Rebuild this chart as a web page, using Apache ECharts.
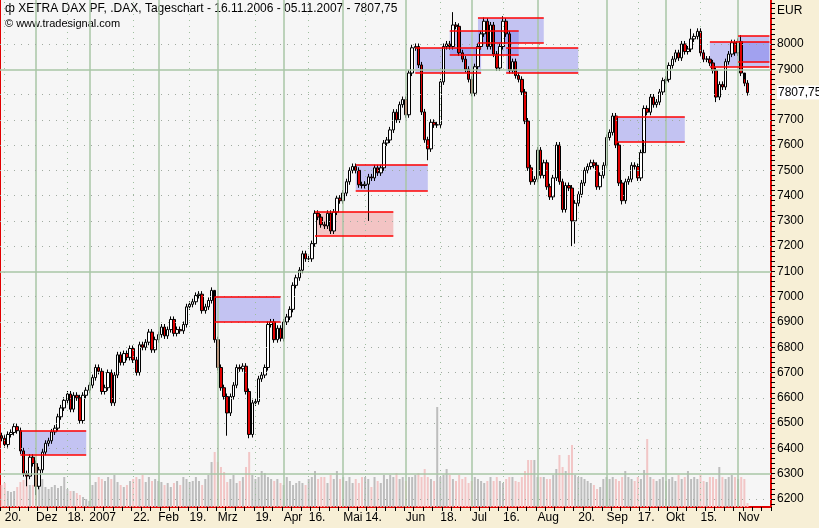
<!DOCTYPE html>
<html><head><meta charset="utf-8">
<script src="https://cdn.jsdelivr.net/npm/echarts@6/dist/echarts.min.js"></script>
<style>html,body{margin:0;padding:0;background:#f7efd6}#c{width:819px;height:528px}</style>
</head><body><div id="c"></div>
<script>
const firstOpen = 6450;
const closes = [
6440,6415,6455,6463,6486,6470,6390,6300,6290,6365,
6340,6250,6315,6385,6420,6430,6465,6480,6525,6560,
6590,6615,6555,6610,6600,6510,6610,6630,6650,6680,
6720,6705,6625,6640,6700,6580,6690,6770,6740,6775,
6760,6795,6750,6700,6810,6800,6820,6860,6790,6830,
6850,6880,6845,6870,6910,6855,6870,6865,6890,6960,
6970,6980,7005,7010,6945,6960,6985,7025,6830,6720,
6640,6605,6540,6605,6650,6720,6715,6725,6625,6455,
6580,6585,6675,6690,6720,6890,6900,6830,6875,6835,
6900,6920,6950,7045,7075,7105,7170,7150,7150,7210,
7330,7315,7285,7280,7330,7260,7335,7390,7380,7410,
7455,7500,7515,7500,7443,7440,7445,7474,7470,7510,
7490,7510,7608,7620,7660,7730,7700,7760,7780,7720,
7885,7985,7990,7917,7731,7621,7585,7690,7680,7680,
7850,7990,8000,7990,8075,8070,7965,7940,7900,7860,
7805,7910,7990,8040,8090,7990,8075,7960,7905,7990,
8090,8040,7895,7930,7875,7860,7810,7695,7510,7455,
7465,7580,7480,7530,7435,7395,7470,7600,7455,7345,
7440,7430,7300,7370,7405,7450,7500,7515,7530,7520,
7435,7480,7520,7630,7650,7715,7600,7450,7380,7455,
7465,7520,7515,7470,7570,7745,7730,7790,7760,7770,
7810,7855,7860,7915,7940,7965,7945,8000,7970,7980,
8020,8030,8050,7965,7940,7940,7925,7895,7790,7840,
7830,7930,7960,8005,7965,8010,7885,7845,7807.75];
const volumes = [
22,24,16,15,16,20,25,27,30,22,
22,22,30,28,20,18,20,22,19,21,
30,18,16,16,14,12,10,8,6,22,
25,30,28,26,30,28,32,25,22,20,
22,26,28,30,28,32,25,30,26,28,
26,25,22,24,20,24,26,22,30,28,
25,26,30,26,22,28,32,45,55,45,
40,35,25,28,32,24,26,30,40,55,
32,28,30,36,34,30,28,26,28,24,
22,30,26,22,24,26,24,22,28,30,
36,28,30,30,24,32,28,36,28,30,
26,30,24,28,24,30,30,28,20,30,
26,24,32,28,32,30,34,28,30,26,
30,30,32,34,30,38,30,28,26,100,
30,32,38,32,28,26,32,28,30,24,
26,30,28,26,24,26,30,26,30,26,
24,28,30,30,26,25,30,36,47,47,
47,30,30,30,28,28,32,38,52,40,
36,52,62,32,30,30,28,26,24,22,
18,20,28,30,28,30,28,26,30,36,
30,28,26,30,28,37,68,30,28,26,
28,30,26,28,30,26,32,28,30,36,
28,30,28,32,26,25,30,30,28,40,
30,28,30,32,30,28,30,28,4];
// notable wick extremes: [index, high, low]
const extremes = [[11,null,6215],[8,null,6250],[79,null,6440],[72,null,6450],[68,7000,null],[117,null,7300],[182,null,7200],[183,null,7210],[136,null,7540],[144,8126,null],[160,8110,null],[154,8105,null],[198,null,7365],[205,null,7620],[220,8060,null],[228,null,7770],[236,8035,null],[237,7860,null]];
const slots = 246;
const tickLabels = [[1,'20.'],[11,'Dez'],[21,'18.'],[28,'2007'],[42,'22.'],[50,'Feb'],[60,'19.'],[69,'Mrz'],[81,'19.'],[90,'Apr'],[98,'16.'],[109,'Mai'],[116,'14.'],[129,'Jun'],[140,'18.'],[150,'Jul'],[160,'16.'],[171,'Aug'],[184,'20.'],[193,'Sep'],[203,'17.'],[212,'Okt'],[223,'15.'],[235,'Nov']];
const monthIdx = [11,28,50,69,90,109,129,150,171,193,212,235];
const priceTicks = [6200,6300,6400,6500,6600,6700,6800,6900,7000,7100,7200,7300,7400,7500,7600,7700,7800,7900,8000];
const solidLevels = [6300,7100,7900];
// boxes: [startIdx, endIdx, top, bottom, kind]
const boxes = [[6,27,6470,6375,'b'],[68,89,7000,6900,'b'],[100,125,7336,7241,'r'],[113,136,7522,7419,'b'],[132,153,7984,7885,'b'],[143,165,8051,7957,'b'],[152,173,8103,8004,'b'],[161,184,7984,7885,'b'],[196,218,7711,7613,'b'],[226,245,8008,7909,'b'],[235,245,8032,7929,'b']];
const lastLabel = '7807,75';

const cats = [];for(let i=0;i<slots;i++)cats.push('T'+i);
const labelMap = {};tickLabels.forEach(t=>labelMap[t[0]]=t[1]);
const candles = closes.map((c,i)=>{const o=i===0?firstOpen:closes[i-1];let hi=Math.max(o,c)+12,lo=Math.min(o,c)-12;return [o,c,lo,hi];});
extremes.forEach(e=>{if(e[1]!=null)candles[e[0]][3]=e[1];if(e[2]!=null)candles[e[0]][2]=e[2];});
const volData = volumes.map((v,i)=>({value:v,itemStyle:{color:candles[i][1]>=candles[i][0]?'#bdbdbd':'#f2c6c6'}}));
const green='#a9c6a6';
const gridLines=[];
tickLabels.forEach(t=>{const solid=monthIdx.includes(t[0]);gridLines.push({xAxis:t[0],lineStyle:{color:solid?green:'#9fbf9f',type:solid?'solid':[1,5],width:solid?1.5:1}});});
priceTicks.forEach(p=>{const solid=solidLevels.includes(p);gridLines.push({yAxis:p,lineStyle:{color:solid?green:'#a0aaa0',type:solid?'solid':[1,6],width:solid?1.5:1}});});
const areas=boxes.map(b=>[{coord:[b[0],b[2]],itemStyle:{color:b[4]==='b'?'rgba(90,90,235,0.33)':'rgba(235,80,80,0.3)'}},{coord:[b[1],b[3]]}]);
const edges=[];boxes.forEach(b=>{edges.push([{coord:[b[0],b[2]]},{coord:[b[1],b[2]]}]);edges.push([{coord:[b[0],b[3]]},{coord:[b[1],b[3]]}]);});
const ticks20=[];for(let v=6180;v<=8160;v+=20)ticks20.push(v);
const lastClose = closes[closes.length-1];
const labelValues = priceTicks.filter(p=>p!==7800).concat([lastClose]);

const chart=echarts.init(document.getElementById('c'));
chart.setOption({
 animation:false,backgroundColor:'#f7efd6',
 textStyle:{fontFamily:'Liberation Sans, Arial, sans-serif'},
 grid:{left:0,right:48,top:0,bottom:21,show:true,backgroundColor:'#f6f6f6',borderWidth:0,outerBoundsMode:'none',containLabel:false},
 xAxis:{type:'category',data:cats,boundaryGap:true,
  axisLine:{lineStyle:{color:'#e00000',width:2}},
  axisTick:{show:true,interval:2,length:4,lineStyle:{color:'#000'}},
  axisLabel:{interval:(i)=>labelMap[i]!==undefined,formatter:(v,i)=>labelMap[i]||'',align:'left',color:'#000',fontSize:12,margin:5},
  splitLine:{show:false}},
 yAxis:[
  {type:'value',position:'right',min:6168,max:8174,
   axisLine:{show:true,lineStyle:{color:'#e00000',width:2}},
   axisTick:{show:true,customValues:ticks20,length:4,lineStyle:{color:'#000'}},
   axisLabel:{customValues:labelValues,formatter:(v)=>v===lastClose?'{p|'+lastLabel+'}':String(v),color:'#000',fontSize:12,margin:6,
     rich:{p:{backgroundColor:'#fff',color:'#000',fontSize:12,padding:[1,1,1,1]}}},
   splitLine:{show:false}},
  {type:'value',position:'left',min:0,max:1,axisLine:{show:true,onZero:false,lineStyle:{color:'#e00000',width:2}},axisTick:{show:false},axisLabel:{show:false},splitLine:{show:false}},
  {type:'value',min:0,max:507,show:false}
 ],
 series:[
  {type:'line',data:[],yAxisIndex:0,z:1,silent:true,markLine:{silent:true,symbol:'none',label:{show:false},data:gridLines}},
  {type:'bar',data:volData,yAxisIndex:2,barWidth:2,z:2,silent:true},
  {type:'candlestick',data:candles,yAxisIndex:0,barWidth:3,z:3,
   itemStyle:{color:'#ffffff',color0:'#e00000',borderColor:'#000',borderColor0:'#000',borderWidth:1},
   markArea:{silent:true,data:areas},
   markLine:{silent:true,symbol:'none',label:{show:false},lineStyle:{color:'#ff0000',type:'solid',width:1.5},data:edges}}
 ],
 graphic:[
  {type:'text',left:5,top:3,style:{text:'ф XETRA DAX PF, .DAX, Tageschart - 16.11.2006 - 05.11.2007 - 7807,75',fill:'#000',font:'12px Liberation Sans, Arial'}},
  {type:'text',left:5,top:18,style:{text:'© www.tradesignal.com',fill:'#000',font:'11px Liberation Sans, Arial'}},
  {type:'text',left:777,top:5,style:{text:'EUR',fill:'#000',font:'12px Liberation Sans, Arial'}}
 ]
});
</script></body></html>
